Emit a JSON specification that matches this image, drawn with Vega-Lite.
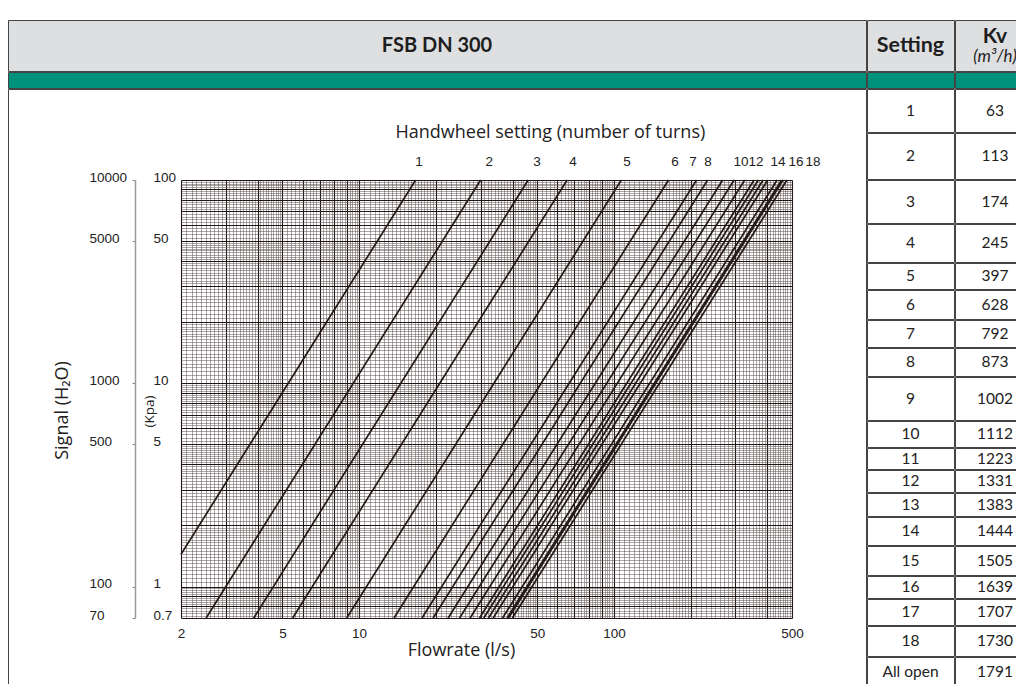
{
"$schema":"https://vega.github.io/schema/vega-lite/v6.json",
"padding":{"left":7,"top":19,"right":0,"bottom":0},
"background":"white",
"config":{"view":{"stroke":"#444444","strokeWidth":1},"concat":{"spacing":-2},"axis":{"labelFont":"Liberation Sans","titleFont":"Open Sans","labelColor":"#222222","titleColor":"#222222","titleFontWeight":"normal"}},
"datasets":{
"curves":[
{"setting":"1","flow":2,"kpa":1.44},{"setting":"1","flow":16.67,"kpa":100},
{"setting":"2","flow":2.51,"kpa":0.7},{"setting":"2","flow":30,"kpa":100},
{"setting":"3","flow":3.858,"kpa":0.7},{"setting":"3","flow":46.11,"kpa":100},
{"setting":"4","flow":5.485,"kpa":0.7},{"setting":"4","flow":65.56,"kpa":100},
{"setting":"5","flow":8.948,"kpa":0.7},{"setting":"5","flow":106.94,"kpa":100},
{"setting":"6","flow":13.71,"kpa":0.7},{"setting":"6","flow":163.89,"kpa":100},
{"setting":"7","flow":17.66,"kpa":0.7},{"setting":"7","flow":211.11,"kpa":100},
{"setting":"8","flow":19.52,"kpa":0.7},{"setting":"8","flow":233.33,"kpa":100},
{"setting":"9","flow":22.36,"kpa":0.7},{"setting":"9","flow":267.22,"kpa":100},
{"setting":"10","flow":24.8,"kpa":0.7},{"setting":"10","flow":296.39,"kpa":100},
{"setting":"11","flow":27.28,"kpa":0.7},{"setting":"11","flow":326.11,"kpa":100},
{"setting":"12","flow":29.7,"kpa":0.7},{"setting":"12","flow":355,"kpa":100},
{"setting":"13","flow":30.86,"kpa":0.7},{"setting":"13","flow":368.89,"kpa":100},
{"setting":"14","flow":32.21,"kpa":0.7},{"setting":"14","flow":385,"kpa":100},
{"setting":"15","flow":33.58,"kpa":0.7},{"setting":"15","flow":401.39,"kpa":100},
{"setting":"16","flow":36.56,"kpa":0.7},{"setting":"16","flow":436.94,"kpa":100},
{"setting":"17","flow":38.09,"kpa":0.7},{"setting":"17","flow":455.28,"kpa":100},
{"setting":"18","flow":38.6,"kpa":0.7},{"setting":"18","flow":461.39,"kpa":100},
{"setting":"All open","flow":39.95,"kpa":0.7},{"setting":"All open","flow":477.5,"kpa":100}
],
"handwheel":[
{"label":"1","flow":17.2},{"label":"2","flow":32.4},{"label":"3","flow":49.9},{"label":"4","flow":69.1},{"label":"5","flow":112.6},{"label":"6","flow":173.8},{"label":"7","flow":204.4},{"label":"8","flow":234.1},{"label":"10","flow":315.4},{"label":"12","flow":361.2},{"label":"14","flow":440.6},{"label":"16","flow":518.5},{"label":"18","flow":604.5}
],
"table":[
{"setting":"1","kv":63},{"setting":"2","kv":113},{"setting":"3","kv":174},{"setting":"4","kv":245},{"setting":"5","kv":397},{"setting":"6","kv":628},{"setting":"7","kv":792},{"setting":"8","kv":873},{"setting":"9","kv":1002},{"setting":"10","kv":1112},{"setting":"11","kv":1223},{"setting":"12","kv":1331},{"setting":"13","kv":1383},{"setting":"14","kv":1444},{"setting":"15","kv":1505},{"setting":"16","kv":1639},{"setting":"17","kv":1707},{"setting":"18","kv":1730},{"setting":"All open","kv":1791}
]
},
"spacing":-2,
"bounds":"full",
"hconcat":[
{"vconcat":[
 {"width":858,"height":51,"view":{"fill":"#DEDFE1","stroke":"#444444","strokeWidth":1},"data":{"values":[{"t":"FSB DN 300"}]},"mark":{"type":"text","font":"Lato","fontWeight":"bold","fontSize":20,"color":"#1e1e1e"},"encoding":{"text":{"field":"t","type":"nominal"}}},
 {"width":858,"height":16,"view":{"fill":"#00917D","stroke":"#444444","strokeWidth":1},"data":{"values":[]},"mark":"point"},
 {"width":858,"height":610,"view":{"stroke":"#444444","strokeWidth":1},
  "resolve":{"axis":{"x":"independent","y":"independent"}},
  "layer":[
   {"data":{"name":"curves"},"mark":{"type":"point","opacity":0},
    "encoding":{
     "x":{"field":"flow","type":"quantitative","scale":{"type":"log","domain":[2,500],"range":[173,784],"nice":false},
      "axis":{"orient":"top","grid":true,"labels":false,"ticks":false,"domain":false,"title":null,"gridColor":"#594d4d","gridWidth":0.5,
       "values":[2.1,2.2,2.3,2.4,2.5,2.6,2.7,2.8,2.9,3.1,3.2,3.3,3.4,3.5,3.6,3.7,3.8,3.9,4.1,4.2,4.3,4.4,4.5,4.6,4.7,4.8,4.9,5.2,5.4,5.6,5.8,6.2,6.4,6.6,6.8,7.2,7.4,7.6,7.8,8.2,8.4,8.6,8.8,9.2,9.4,9.6,9.8,10.5,11,11.5,12,12.5,13,13.5,14,14.5,15,15.5,16,16.5,17,17.5,18,18.5,19,19.5,21,22,23,24,25,26,27,28,29,31,32,33,34,35,36,37,38,39,41,42,43,44,45,46,47,48,49,52,54,56,58,62,64,66,68,72,74,76,78,82,84,86,88,92,94,96,98,105,110,115,120,125,130,135,140,145,150,155,160,165,170,175,180,185,190,195,210,220,230,240,250,260,270,280,290,310,320,330,340,350,360,370,380,390,410,420,430,440,450,460,470,480,490]}},
     "y":{"field":"kpa","type":"quantitative","scale":{"type":"log","domain":[0.7,100],"range":[529,91],"nice":false},
      "axis":{"orient":"left","grid":true,"labels":false,"ticks":false,"domain":false,"title":null,"gridColor":"#594d4d","gridWidth":0.5,
       "values":[0.72,0.74,0.76,0.78,0.82,0.84,0.86,0.88,0.92,0.94,0.96,0.98,1.05,1.1,1.15,1.2,1.25,1.3,1.35,1.4,1.45,1.5,1.55,1.6,1.65,1.7,1.75,1.8,1.85,1.9,1.95,2.1,2.2,2.3,2.4,2.5,2.6,2.7,2.8,2.9,3.1,3.2,3.3,3.4,3.5,3.6,3.7,3.8,3.9,4.1,4.2,4.3,4.4,4.5,4.6,4.7,4.8,4.9,5.2,5.4,5.6,5.8,6.2,6.4,6.6,6.8,7.2,7.4,7.6,7.8,8.2,8.4,8.6,8.8,9.2,9.4,9.6,9.8,10.5,11,11.5,12,12.5,13,13.5,14,14.5,15,15.5,16,16.5,17,17.5,18,18.5,19,19.5,21,22,23,24,25,26,27,28,29,31,32,33,34,35,36,37,38,39,41,42,43,44,45,46,47,48,49,52,54,56,58,62,64,66,68,72,74,76,78,82,84,86,88,92,94,96,98]}}
    }},
   {"data":{"name":"curves"},"mark":{"type":"point","opacity":0},
    "encoding":{
     "x":{"field":"flow","type":"quantitative","scale":{"type":"log","domain":[2,500],"range":[173,784],"nice":false},
      "axis":{"orient":"top","grid":true,"labels":false,"ticks":false,"domain":false,"title":null,"gridColor":"#1e1414","gridWidth":1.1,
       "values":[2,3,4,5,6,7,8,9,10,20,30,40,50,60,70,80,90,100,200,300,400,500]}},
     "y":{"field":"kpa","type":"quantitative","scale":{"type":"log","domain":[0.7,100],"range":[529,91],"nice":false},
      "axis":{"orient":"left","grid":true,"labels":false,"ticks":false,"domain":false,"title":null,"gridColor":"#1e1414","gridWidth":1.1,
       "values":[0.7,0.8,0.9,1,2,3,4,5,6,7,8,9,10,20,30,40,50,60,70,80,90,100]}}
    }},
   {"data":{"name":"curves"},"mark":{"type":"point","opacity":0},
    "encoding":{
     "x":{"field":"flow","type":"quantitative","scale":{"type":"log","domain":[2,500],"range":[173,784],"nice":false},
      "axis":{"orient":"top","grid":false,"labels":false,"ticks":false,"domain":false,"title":"Handwheel setting (number of turns)","titleX":387,"titleY":43,"titleAlign":"left","titleBaseline":"middle","titleFontSize":18,"titleFontWeight":"normal"}},
     "y":{"field":"kpa","type":"quantitative","scale":{"type":"log","domain":[0.7,100],"range":[529,91],"nice":false},
      "axis":{"orient":"left","offset":-127,"grid":false,"values":[0.7,1,5,10,50,100],"labelExpr":"format(datum.value*100,'d')","labelAlign":"left","labelPadding":43,"labelOffset":-3,"ticks":true,"tickSize":3,"tickColor":"#888888","domain":true,"domainColor":"#999999","domainWidth":1.5,"labelFontSize":13.5,"labelFlush":false,"labelOverlap":false,
       "title":"Signal (H₂O)","titleX":-73,"titleY":321,"titleAngle":270,"titleAlign":"center","titleBaseline":"middle","titleFontSize":18,"titleFontWeight":"normal"}}
    }},
   {"data":{"name":"curves"},"mark":{"type":"line","color":"#231815","strokeWidth":1.7},
    "encoding":{
     "x":{"field":"flow","type":"quantitative","scale":{"type":"log","domain":[2,500],"range":[173,784],"nice":false},
      "axis":{"orient":"bottom","offset":-81,"grid":false,"values":[2,5,10,50,100,500],"labelExpr":"datum.value + ''","ticks":false,"domain":false,"labelPadding":8,"labelFontSize":13.5,"labelFlush":false,"labelOverlap":false,
       "title":"Flowrate (l/s)","titleX":453,"titleY":32,"titleAlign":"center","titleBaseline":"middle","titleFontSize":18,"titleFontWeight":"normal"}},
     "y":{"field":"kpa","type":"quantitative","scale":{"type":"log","domain":[0.7,100],"range":[529,91],"nice":false},
      "axis":{"orient":"left","offset":-173,"grid":false,"values":[0.7,1,5,10,50,100],"labelExpr":"datum.value + ''","labelAlign":"left","labelPadding":28,"labelOffset":-3,"ticks":false,"tickSize":0,"domain":false,"labelFontSize":13.5,"labelFlush":false,"labelOverlap":false,
       "title":"(Kpa)","titleX":-32,"titleY":322,"titleAngle":270,"titleAlign":"center","titleBaseline":"middle","titleFontSize":13.5,"titleFontWeight":"normal"}},
     "detail":{"field":"setting","type":"nominal"}
    }},
   {"data":{"name":"handwheel"},"mark":{"type":"text","font":"Liberation Sans","fontSize":13.5,"dy":-18,"color":"#222222"},
    "encoding":{
     "x":{"field":"flow","type":"quantitative","scale":{"type":"log","domain":[2,500],"range":[173,784],"nice":false},"axis":null},
     "y":{"datum":100,"type":"quantitative","axis":null},
     "text":{"field":"label","type":"nominal"}
    }}
  ]}
],"spacing":-2,"bounds":"full"},
{"vconcat":[
 {"hconcat":[
  {"width":87,"height":51,"view":{"fill":"#DEDFE1","stroke":"#444444","strokeWidth":1},"data":{"values":[{"t":"Setting"}]},"mark":{"type":"text","font":"Lato","fontWeight":"bold","fontSize":21.5,"color":"#1e1e1e"},"encoding":{"text":{"field":"t","type":"nominal"}}},
  {"width":80,"height":51,"view":{"fill":"#DEDFE1","stroke":"#444444","strokeWidth":1},"data":{"values":[{"a":"Kv","b":"(m³/h)"}]},"layer":[
    {"mark":{"type":"text","font":"Lato","fontWeight":"bold","fontSize":21,"dy":-9,"color":"#1e1e1e"},"encoding":{"text":{"field":"a","type":"nominal"}}},
    {"mark":{"type":"text","font":"Lato","fontStyle":"italic","fontSize":17,"dy":11,"color":"#1e1e1e"},"encoding":{"text":{"field":"b","type":"nominal"}}}
  ]}
 ],"spacing":-2,"bounds":"full"},
 {"hconcat":[
  {"width":87,"height":16,"view":{"fill":"#00917D","stroke":"#444444","strokeWidth":1},"data":{"values":[]},"mark":"point"},
  {"width":80,"height":16,"view":{"fill":"#00917D","stroke":"#444444","strokeWidth":1},"data":{"values":[]},"mark":"point"}
 ],"spacing":-2,"bounds":"full"},
 {"hconcat":[{"width":87,"height":43,"view":{"stroke":"#444444","strokeWidth":1},"data":{"name":"table"},"transform":[{"filter":"datum.setting === '1'"}],"mark":{"type":"text","font":"Lato","fontSize":15.5,"color":"#222222"},"encoding":{"text":{"field":"setting","type":"nominal"}}},{"width":80,"height":43,"view":{"stroke":"#444444","strokeWidth":1},"data":{"name":"table"},"transform":[{"filter":"datum.setting === '1'"}],"mark":{"type":"text","font":"Lato","fontSize":15.5,"color":"#222222"},"encoding":{"text":{"field":"kv","type":"nominal"}}}],"spacing":-2,"bounds":"full"},
 {"hconcat":[{"width":87,"height":46,"view":{"stroke":"#444444","strokeWidth":1},"data":{"name":"table"},"transform":[{"filter":"datum.setting === '2'"}],"mark":{"type":"text","font":"Lato","fontSize":15.5,"color":"#222222"},"encoding":{"text":{"field":"setting","type":"nominal"}}},{"width":80,"height":46,"view":{"stroke":"#444444","strokeWidth":1},"data":{"name":"table"},"transform":[{"filter":"datum.setting === '2'"}],"mark":{"type":"text","font":"Lato","fontSize":15.5,"color":"#222222"},"encoding":{"text":{"field":"kv","type":"nominal"}}}],"spacing":-2,"bounds":"full"},
 {"hconcat":[{"width":87,"height":43,"view":{"stroke":"#444444","strokeWidth":1},"data":{"name":"table"},"transform":[{"filter":"datum.setting === '3'"}],"mark":{"type":"text","font":"Lato","fontSize":15.5,"color":"#222222"},"encoding":{"text":{"field":"setting","type":"nominal"}}},{"width":80,"height":43,"view":{"stroke":"#444444","strokeWidth":1},"data":{"name":"table"},"transform":[{"filter":"datum.setting === '3'"}],"mark":{"type":"text","font":"Lato","fontSize":15.5,"color":"#222222"},"encoding":{"text":{"field":"kv","type":"nominal"}}}],"spacing":-2,"bounds":"full"},
 {"hconcat":[{"width":87,"height":38,"view":{"stroke":"#444444","strokeWidth":1},"data":{"name":"table"},"transform":[{"filter":"datum.setting === '4'"}],"mark":{"type":"text","font":"Lato","fontSize":15.5,"color":"#222222"},"encoding":{"text":{"field":"setting","type":"nominal"}}},{"width":80,"height":38,"view":{"stroke":"#444444","strokeWidth":1},"data":{"name":"table"},"transform":[{"filter":"datum.setting === '4'"}],"mark":{"type":"text","font":"Lato","fontSize":15.5,"color":"#222222"},"encoding":{"text":{"field":"kv","type":"nominal"}}}],"spacing":-2,"bounds":"full"},
 {"hconcat":[{"width":87,"height":26,"view":{"stroke":"#444444","strokeWidth":1},"data":{"name":"table"},"transform":[{"filter":"datum.setting === '5'"}],"mark":{"type":"text","font":"Lato","fontSize":15.5,"color":"#222222"},"encoding":{"text":{"field":"setting","type":"nominal"}}},{"width":80,"height":26,"view":{"stroke":"#444444","strokeWidth":1},"data":{"name":"table"},"transform":[{"filter":"datum.setting === '5'"}],"mark":{"type":"text","font":"Lato","fontSize":15.5,"color":"#222222"},"encoding":{"text":{"field":"kv","type":"nominal"}}}],"spacing":-2,"bounds":"full"},
 {"hconcat":[{"width":87,"height":29,"view":{"stroke":"#444444","strokeWidth":1},"data":{"name":"table"},"transform":[{"filter":"datum.setting === '6'"}],"mark":{"type":"text","font":"Lato","fontSize":15.5,"color":"#222222"},"encoding":{"text":{"field":"setting","type":"nominal"}}},{"width":80,"height":29,"view":{"stroke":"#444444","strokeWidth":1},"data":{"name":"table"},"transform":[{"filter":"datum.setting === '6'"}],"mark":{"type":"text","font":"Lato","fontSize":15.5,"color":"#222222"},"encoding":{"text":{"field":"kv","type":"nominal"}}}],"spacing":-2,"bounds":"full"},
 {"hconcat":[{"width":87,"height":27,"view":{"stroke":"#444444","strokeWidth":1},"data":{"name":"table"},"transform":[{"filter":"datum.setting === '7'"}],"mark":{"type":"text","font":"Lato","fontSize":15.5,"color":"#222222"},"encoding":{"text":{"field":"setting","type":"nominal"}}},{"width":80,"height":27,"view":{"stroke":"#444444","strokeWidth":1},"data":{"name":"table"},"transform":[{"filter":"datum.setting === '7'"}],"mark":{"type":"text","font":"Lato","fontSize":15.5,"color":"#222222"},"encoding":{"text":{"field":"kv","type":"nominal"}}}],"spacing":-2,"bounds":"full"},
 {"hconcat":[{"width":87,"height":28,"view":{"stroke":"#444444","strokeWidth":1},"data":{"name":"table"},"transform":[{"filter":"datum.setting === '8'"}],"mark":{"type":"text","font":"Lato","fontSize":15.5,"color":"#222222"},"encoding":{"text":{"field":"setting","type":"nominal"}}},{"width":80,"height":28,"view":{"stroke":"#444444","strokeWidth":1},"data":{"name":"table"},"transform":[{"filter":"datum.setting === '8'"}],"mark":{"type":"text","font":"Lato","fontSize":15.5,"color":"#222222"},"encoding":{"text":{"field":"kv","type":"nominal"}}}],"spacing":-2,"bounds":"full"},
 {"hconcat":[{"width":87,"height":43,"view":{"stroke":"#444444","strokeWidth":1},"data":{"name":"table"},"transform":[{"filter":"datum.setting === '9'"}],"mark":{"type":"text","font":"Lato","fontSize":15.5,"color":"#222222"},"encoding":{"text":{"field":"setting","type":"nominal"}}},{"width":80,"height":43,"view":{"stroke":"#444444","strokeWidth":1},"data":{"name":"table"},"transform":[{"filter":"datum.setting === '9'"}],"mark":{"type":"text","font":"Lato","fontSize":15.5,"color":"#222222"},"encoding":{"text":{"field":"kv","type":"nominal"}}}],"spacing":-2,"bounds":"full"},
 {"hconcat":[{"width":87,"height":26,"view":{"stroke":"#444444","strokeWidth":1},"data":{"name":"table"},"transform":[{"filter":"datum.setting === '10'"}],"mark":{"type":"text","font":"Lato","fontSize":15.5,"color":"#222222"},"encoding":{"text":{"field":"setting","type":"nominal"}}},{"width":80,"height":26,"view":{"stroke":"#444444","strokeWidth":1},"data":{"name":"table"},"transform":[{"filter":"datum.setting === '10'"}],"mark":{"type":"text","font":"Lato","fontSize":15.5,"color":"#222222"},"encoding":{"text":{"field":"kv","type":"nominal"}}}],"spacing":-2,"bounds":"full"},
 {"hconcat":[{"width":87,"height":21,"view":{"stroke":"#444444","strokeWidth":1},"data":{"name":"table"},"transform":[{"filter":"datum.setting === '11'"}],"mark":{"type":"text","font":"Lato","fontSize":15.5,"color":"#222222"},"encoding":{"text":{"field":"setting","type":"nominal"}}},{"width":80,"height":21,"view":{"stroke":"#444444","strokeWidth":1},"data":{"name":"table"},"transform":[{"filter":"datum.setting === '11'"}],"mark":{"type":"text","font":"Lato","fontSize":15.5,"color":"#222222"},"encoding":{"text":{"field":"kv","type":"nominal"}}}],"spacing":-2,"bounds":"full"},
 {"hconcat":[{"width":87,"height":22,"view":{"stroke":"#444444","strokeWidth":1},"data":{"name":"table"},"transform":[{"filter":"datum.setting === '12'"}],"mark":{"type":"text","font":"Lato","fontSize":15.5,"color":"#222222"},"encoding":{"text":{"field":"setting","type":"nominal"}}},{"width":80,"height":22,"view":{"stroke":"#444444","strokeWidth":1},"data":{"name":"table"},"transform":[{"filter":"datum.setting === '12'"}],"mark":{"type":"text","font":"Lato","fontSize":15.5,"color":"#222222"},"encoding":{"text":{"field":"kv","type":"nominal"}}}],"spacing":-2,"bounds":"full"},
 {"hconcat":[{"width":87,"height":23,"view":{"stroke":"#444444","strokeWidth":1},"data":{"name":"table"},"transform":[{"filter":"datum.setting === '13'"}],"mark":{"type":"text","font":"Lato","fontSize":15.5,"color":"#222222"},"encoding":{"text":{"field":"setting","type":"nominal"}}},{"width":80,"height":23,"view":{"stroke":"#444444","strokeWidth":1},"data":{"name":"table"},"transform":[{"filter":"datum.setting === '13'"}],"mark":{"type":"text","font":"Lato","fontSize":15.5,"color":"#222222"},"encoding":{"text":{"field":"kv","type":"nominal"}}}],"spacing":-2,"bounds":"full"},
 {"hconcat":[{"width":87,"height":28,"view":{"stroke":"#444444","strokeWidth":1},"data":{"name":"table"},"transform":[{"filter":"datum.setting === '14'"}],"mark":{"type":"text","font":"Lato","fontSize":15.5,"color":"#222222"},"encoding":{"text":{"field":"setting","type":"nominal"}}},{"width":80,"height":28,"view":{"stroke":"#444444","strokeWidth":1},"data":{"name":"table"},"transform":[{"filter":"datum.setting === '14'"}],"mark":{"type":"text","font":"Lato","fontSize":15.5,"color":"#222222"},"encoding":{"text":{"field":"kv","type":"nominal"}}}],"spacing":-2,"bounds":"full"},
 {"hconcat":[{"width":87,"height":29,"view":{"stroke":"#444444","strokeWidth":1},"data":{"name":"table"},"transform":[{"filter":"datum.setting === '15'"}],"mark":{"type":"text","font":"Lato","fontSize":15.5,"color":"#222222"},"encoding":{"text":{"field":"setting","type":"nominal"}}},{"width":80,"height":29,"view":{"stroke":"#444444","strokeWidth":1},"data":{"name":"table"},"transform":[{"filter":"datum.setting === '15'"}],"mark":{"type":"text","font":"Lato","fontSize":15.5,"color":"#222222"},"encoding":{"text":{"field":"kv","type":"nominal"}}}],"spacing":-2,"bounds":"full"},
 {"hconcat":[{"width":87,"height":22,"view":{"stroke":"#444444","strokeWidth":1},"data":{"name":"table"},"transform":[{"filter":"datum.setting === '16'"}],"mark":{"type":"text","font":"Lato","fontSize":15.5,"color":"#222222"},"encoding":{"text":{"field":"setting","type":"nominal"}}},{"width":80,"height":22,"view":{"stroke":"#444444","strokeWidth":1},"data":{"name":"table"},"transform":[{"filter":"datum.setting === '16'"}],"mark":{"type":"text","font":"Lato","fontSize":15.5,"color":"#222222"},"encoding":{"text":{"field":"kv","type":"nominal"}}}],"spacing":-2,"bounds":"full"},
 {"hconcat":[{"width":87,"height":26,"view":{"stroke":"#444444","strokeWidth":1},"data":{"name":"table"},"transform":[{"filter":"datum.setting === '17'"}],"mark":{"type":"text","font":"Lato","fontSize":15.5,"color":"#222222"},"encoding":{"text":{"field":"setting","type":"nominal"}}},{"width":80,"height":26,"view":{"stroke":"#444444","strokeWidth":1},"data":{"name":"table"},"transform":[{"filter":"datum.setting === '17'"}],"mark":{"type":"text","font":"Lato","fontSize":15.5,"color":"#222222"},"encoding":{"text":{"field":"kv","type":"nominal"}}}],"spacing":-2,"bounds":"full"},
 {"hconcat":[{"width":87,"height":30,"view":{"stroke":"#444444","strokeWidth":1},"data":{"name":"table"},"transform":[{"filter":"datum.setting === '18'"}],"mark":{"type":"text","font":"Lato","fontSize":15.5,"color":"#222222"},"encoding":{"text":{"field":"setting","type":"nominal"}}},{"width":80,"height":30,"view":{"stroke":"#444444","strokeWidth":1},"data":{"name":"table"},"transform":[{"filter":"datum.setting === '18'"}],"mark":{"type":"text","font":"Lato","fontSize":15.5,"color":"#222222"},"encoding":{"text":{"field":"kv","type":"nominal"}}}],"spacing":-2,"bounds":"full"},
 {"hconcat":[{"width":87,"height":30,"view":{"stroke":"#444444","strokeWidth":1},"data":{"name":"table"},"transform":[{"filter":"datum.setting === 'All open'"}],"mark":{"type":"text","font":"Lato","fontSize":15.5,"color":"#222222"},"encoding":{"text":{"field":"setting","type":"nominal"}}},{"width":80,"height":30,"view":{"stroke":"#444444","strokeWidth":1},"data":{"name":"table"},"transform":[{"filter":"datum.setting === 'All open'"}],"mark":{"type":"text","font":"Lato","fontSize":15.5,"color":"#222222"},"encoding":{"text":{"field":"kv","type":"nominal"}}}],"spacing":-2,"bounds":"full"}
],"spacing":-2,"bounds":"full"}
]
}
